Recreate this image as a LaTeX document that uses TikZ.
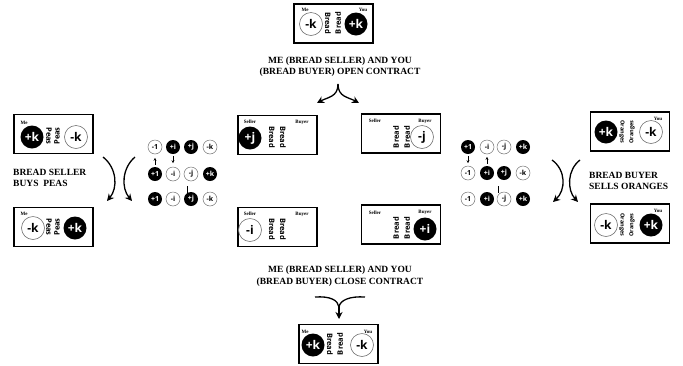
\documentclass[tikz,border=0pt]{standalone}
\usepackage{fontspec}
\setmainfont{Liberation Serif}
\newfontfamily\circfont{Open Sans}
\usetikzlibrary{arrows.meta}
\tikzset{
  box/.style={draw, line width=1.5pt, minimum width=79pt, minimum height=39pt, inner sep=0pt},
  bigb/.style={circle, fill=black, text=white, minimum size=23pt, inner sep=0pt, font=\circfont\bfseries\fontsize{12}{12}\selectfont},
  bigw/.style={circle, draw=black!55, line width=0.6pt, fill=white, text=black, minimum size=23pt, inner sep=0pt, font=\circfont\bfseries\fontsize{12}{12}\selectfont},
  smb/.style={circle, fill=black, text=white, minimum size=14pt, inner sep=0pt, font=\circfont\bfseries\fontsize{7}{7}\selectfont},
  smw/.style={circle, draw=black!55, line width=0.5pt, fill=white, text=black, minimum size=14pt, inner sep=0pt, font=\circfont\bfseries\fontsize{7}{7}\selectfont},
  tag/.style={inner sep=0pt, font=\bfseries\fontsize{5}{5}\selectfont},
  goodd/.style={inner sep=0pt, rotate=-90, font=\circfont\bfseries\fontsize{7.5}{7.5}\selectfont},
  goodu/.style={inner sep=0pt, rotate=90, font=\circfont\bfseries\fontsize{7.5}{7.5}\selectfont},
  orgd/.style={goodd, font=\circfont\bfseries\fontsize{5.5}{5.5}\selectfont},
  orgu/.style={goodu, font=\circfont\bfseries\fontsize{5.5}{5.5}\selectfont},
  head/.style={inner sep=0pt, font=\bfseries\fontsize{9.5}{11.5}\selectfont},
  arr/.style={line width=1.3pt, -{Stealth[length=7pt,width=7pt]}},
  tiny/.style={line width=0.6pt, -{Stealth[length=3pt,width=3pt]}},
}
\begin{document}
\begin{tikzpicture}[x=1pt,y=-1pt]
\useasboundingbox (0,0) rectangle (683,365);

% ---------- top box ----------
\node[box] (btop) at (333.5,23.5) {};
\node[bigw] (ct1) at (311,24) {-k};
\node[bigb] (ct2) at (356,24) {+k};
\node[goodd] (gt1) at (328,23) {Bread};
\node[goodu] (gt2) at (338,23) {Bread};
\node[tag] (tt1) at (305,10) {Me};
\node[tag] (tt2) at (363,10) {You};

\node[head, align=center] (h1) at (340,66.5) {ME (BREAD SELLER) AND YOU\\(BREAD BUYER) OPEN CONTRACT};

% split arrow
\coordinate (sp) at (338,84);
\coordinate (spl) at (317,103);
\coordinate (spr) at (359,103);
\draw[arr] (sp) .. controls (338,97) and (328,97) .. (spl);
\draw[arr] (sp) .. controls (338,97) and (348,97) .. (spr);

% ---------- left column ----------
\node[box] (pt) at (53.5,134) {};
\node[bigb] (p1) at (32,137) {+k};
\node[bigw] (p2) at (76,137) {-k};
\node[goodd] (pg1) at (49,136) {Peas};
\node[goodu] (pg2) at (57,136) {Peas};
\node[tag] (pm1) at (24,123) {Me};

\node[head, align=left, anchor=west] (h2) at (13,178) {BREAD SELLER\\BUYS\ \ PEAS};

\node[box] (pb) at (53.5,227) {};
\node[bigw] (p3) at (33,228) {-k};
\node[bigb] (p4) at (75,228) {+k};
\node[goodd] (pg3) at (49,227) {Peas};
\node[goodu] (pg4) at (57,227) {Peas};
\node[tag] (pm2) at (24,214) {Me};

\coordinate (la1) at (103,157);
\coordinate (la2) at (107,201);
\coordinate (lb1) at (135,157);
\coordinate (lb2) at (132,201);
\draw[arr] (la1) .. controls (117,168) and (118,188) .. (la2);
\draw[arr] (lb1) .. controls (122,168) and (121,188) .. (lb2);

% ---------- left quaternion grid ----------
\node[smw] (q11) at (155,147) {-1};
\node[smb] (q12) at (173,147) {+i};
\node[smb] (q13) at (191,147) {+j};
\node[smw] (q14) at (210,147) {-k};
\node[smb] (q21) at (155,174) {+1};
\node[smw] (q22) at (173,174) {-i};
\node[smw] (q23) at (191,174) {-j};
\node[smb] (q24) at (210,174) {+k};
\node[smb] (q31) at (155,199) {+1};
\node[smw] (q32) at (173,199) {-i};
\node[smb] (q33) at (191,199) {+j};
\node[smw] (q34) at (210,199) {-k};
\draw[tiny] (q21.north) ++(0,-2) -- ++(0,-7);
\draw[tiny] (q12.south) ++(0,2) -- ++(0,7);
\draw[line width=1pt] (187,186) -- (187,193);

% ---------- middle boxes ----------
\node[box] (m1) at (277.5,135) {};
\node[bigb] (mc1) at (250,138) {+j};
\node[goodd] (mg1) at (272,137) {Bread};
\node[goodd] (mg2) at (283,137) {Bread};
\node[tag] (ms1) at (250,122) {Seller};
\node[tag] (mb1) at (302,122) {Buyer};

\node[box] (m2) at (401,133.5) {};
\node[bigw] (mc2) at (422,137) {-j};
\node[goodu] (mg3) at (396,137) {Bread};
\node[goodu] (mg4) at (407,137) {Bread};
\node[tag] (ms2) at (375,121) {Seller};
\node[tag] (mb2) at (425,121) {Buyer};

\node[box] (m3) at (277.5,227) {};
\node[bigw] (mc3) at (250,230) {-i};
\node[goodd] (mg5) at (272,229) {Bread};
\node[goodd] (mg6) at (283,229) {Bread};
\node[tag] (ms3) at (250,214) {Seller};
\node[tag] (mb3) at (302,214) {Buyer};

\node[box] (m4) at (401,224.5) {};
\node[bigb] (mc4) at (425,229) {+i};
\node[goodu] (mg7) at (396,228) {Bread};
\node[goodu] (mg8) at (407,228) {Bread};
\node[tag] (ms4) at (375,213) {Seller};
\node[tag] (mb4) at (425,212) {Buyer};

% ---------- right quaternion grid ----------
\node[smb] (r11) at (468,147) {+1};
\node[smw] (r12) at (487,147) {-i};
\node[smw] (r13) at (504,147) {-j};
\node[smb] (r14) at (523,147) {+k};
\node[smw] (r21) at (468,173) {-1};
\node[smb] (r22) at (487,173) {+i};
\node[smb] (r23) at (504,173) {+j};
\node[smw] (r24) at (523,173) {-k};
\node[smw] (r31) at (468,199) {-1};
\node[smb] (r32) at (487,199) {+i};
\node[smw] (r33) at (504,199) {-j};
\node[smb] (r34) at (523,199) {+k};
\draw[tiny] (r11.south) ++(0,2) -- ++(0,7);
\draw[tiny] (r22.north) ++(0,-2) -- ++(0,-7);
\draw[line width=1pt] (498,186) -- (498,193);

% ---------- right column ----------
\coordinate (ra1) at (552,160);
\coordinate (ra2) at (553,202);
\coordinate (rb1) at (580,160);
\coordinate (rb2) at (578,202);
\draw[arr] (ra1) .. controls (566,170) and (566,190) .. (ra2);
\draw[arr] (rb1) .. controls (567,170) and (567,190) .. (rb2);

\node[box] (o1) at (630,131.5) {};
\node[bigb] (oc1) at (606,132) {+k};
\node[bigw] (oc2) at (651,132) {-k};
\node[orgd] (og1) at (622,132) {Oranges};
\node[orgu] (og2) at (632,132) {Oranges};
\node[tag] (oy1) at (658,119) {You};

\node[head, align=left, anchor=west] (h3) at (589,181) {BREAD BUYER\\SELLS ORANGES};

\node[box] (o2) at (630,223.5) {};
\node[bigw] (oc3) at (606,225) {-k};
\node[bigb] (oc4) at (651,225) {+k};
\node[orgd] (og3) at (622,225) {Oranges};
\node[orgu] (og4) at (632,225) {Oranges};
\node[tag] (oy2) at (658,211) {You};

% ---------- bottom ----------
\node[head, align=center] (h4) at (340,276) {ME (BREAD SELLER) AND YOU\\(BREAD BUYER) CLOSE CONTRACT};

\coordinate (mg) at (339,319);
\coordinate (mgl) at (315,297);
\coordinate (mgr) at (365,297);
\draw[line width=1.3pt] (mgl) .. controls (330,296) and (338,300) .. (339,307);
\draw[line width=1.3pt] (mgr) .. controls (350,296) and (340,300) .. (339,307);
\draw[arr] (339,305) -- (mg);

\node[box] (bb) at (338.5,344) {};
\node[bigb] (bc1) at (313,345) {+k};
\node[bigw] (bc2) at (362,345) {-k};
\node[goodd] (bg1) at (330,344) {Bread};
\node[goodu] (bg2) at (340,344) {Bread};
\node[tag] (bm1) at (305,332) {Me};
\node[tag] (by1) at (368,332) {You};
\end{tikzpicture}
\end{document}
